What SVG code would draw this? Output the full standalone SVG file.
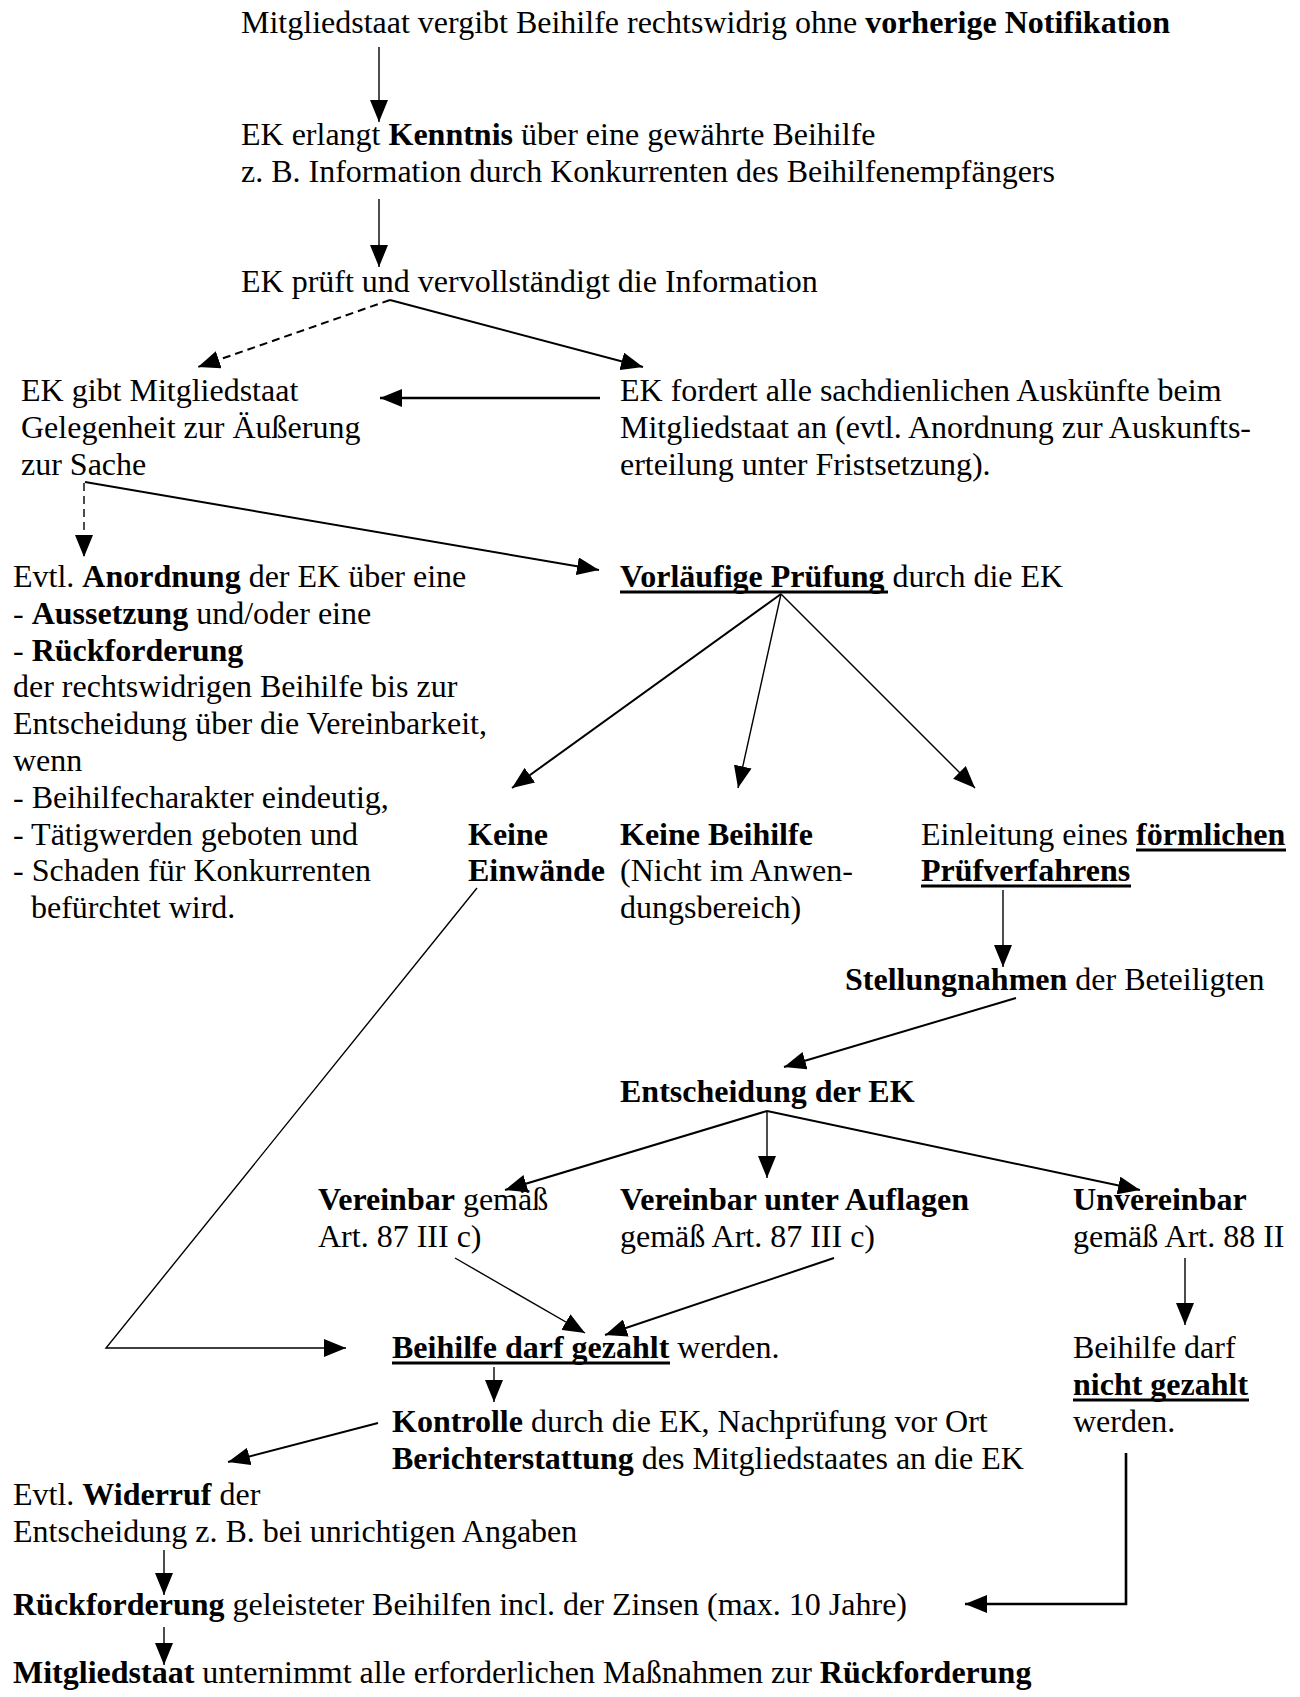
<svg xmlns="http://www.w3.org/2000/svg" width="1300" height="1697" viewBox="0 0 1300 1697">
<style>
text { font-family: "Liberation Serif", "Times New Roman", serif; font-size: 32px; fill: #000; }
.b { font-weight: bold; }
.c { stroke: #000; fill: none; stroke-width: 1.4; }
.w { stroke-width: 2; }
.t { stroke-width: 2.6; }
.d { stroke-dasharray: 8 5; }
.u { stroke: #000; stroke-width: 3; }
</style>
<defs>
<marker id="ah" markerUnits="userSpaceOnUse" viewBox="0 0 22 18" markerWidth="22" markerHeight="18" refX="22" refY="9" orient="auto">
<path d="M0,0 L22,9 L0,18 z" fill="#000"/>
</marker>
</defs>
<rect width="1300" height="1697" fill="#fff"/>

<g id="n-start"><text x="241" y="33">Mitgliedstaat vergibt Beihilfe rechtswidrig ohne <tspan class="b">vorherige Notifikation</tspan></text></g>
<g id="n-kenntnis">
<text x="241" y="145">EK erlangt <tspan class="b">Kenntnis</tspan> über eine gewährte Beihilfe</text>
<text x="241" y="182">z. B. Information durch Konkurrenten des Beihilfenempfängers</text>
</g>
<g id="n-pruefung"><text x="241" y="292">EK prüft und vervollständigt die Information</text></g>
<g id="n-gelegenheit">
<text x="21" y="401">EK gibt Mitgliedstaat</text>
<text x="21" y="438">Gelegenheit zur Äußerung</text>
<text x="21" y="475">zur Sache</text>
</g>
<g id="n-auskuenfte">
<text x="620" y="401">EK fordert alle sachdienlichen Auskünfte beim</text>
<text x="620" y="438">Mitgliedstaat an (evtl. Anordnung zur Auskunfts-</text>
<text x="620" y="475">erteilung unter Fristsetzung).</text>
</g>
<g id="n-anordnung">
<text x="13" y="587">Evtl. <tspan class="b">Anordnung</tspan> der EK über eine</text>
<text x="13" y="624">- <tspan class="b">Aussetzung</tspan> und/oder eine</text>
<text x="13" y="661">- <tspan class="b">Rückforderung</tspan></text>
<text x="13" y="697">der rechtswidrigen Beihilfe bis zur</text>
<text x="13" y="734">Entscheidung über die Vereinbarkeit,</text>
<text x="13" y="771">wenn</text>
<text x="13" y="808">- Beihilfecharakter eindeutig,</text>
<text x="13" y="845">- Tätigwerden geboten und</text>
<text x="13" y="881">- Schaden für Konkurrenten</text>
<text x="31" y="918">befürchtet wird.</text>
</g>
<g id="n-vorlaeufig">
<text x="620" y="587"><tspan class="b">Vorläufige Prüfung</tspan> durch die EK</text>
<line class="u" x1="620" y1="592" x2="888" y2="592"/>
</g>
<g id="n-keine-einwaende">
<text class="b" x="468" y="845">Keine</text>
<text class="b" x="468" y="881">Einwände</text>
</g>
<g id="n-keine-beihilfe">
<text class="b" x="620" y="845">Keine Beihilfe</text>
<text x="620" y="881">(Nicht im Anwen-</text>
<text x="620" y="918">dungsbereich)</text>
</g>
<g id="n-einleitung">
<text x="921" y="845">Einleitung eines <tspan class="b">förmlichen</tspan></text>
<text class="b" x="921" y="881">Prüfverfahrens</text>
<line class="u" x1="1136" y1="850" x2="1286" y2="850"/>
<line class="u" x1="921" y1="886" x2="1131" y2="886"/>
</g>
<g id="n-stellungnahmen"><text x="845" y="990"><tspan class="b">Stellungnahmen</tspan> der Beteiligten</text></g>
<g id="n-entscheidung"><text class="b" x="620" y="1102">Entscheidung der EK</text></g>
<g id="n-vereinbar">
<text x="318" y="1210"><tspan class="b">Vereinbar</tspan> gemäß</text>
<text x="318" y="1247">Art. 87 III c)</text>
</g>
<g id="n-auflagen">
<text class="b" x="620" y="1210">Vereinbar unter Auflagen</text>
<text x="620" y="1247">gemäß Art. 87 III c)</text>
</g>
<g id="n-unvereinbar">
<text class="b" x="1073" y="1210">Unvereinbar</text>
<text x="1073" y="1247">gemäß Art. 88 II</text>
</g>
<g id="n-gezahlt">
<text x="392" y="1358"><tspan class="b">Beihilfe darf gezahlt</tspan> werden.</text>
<line class="u" x1="392" y1="1363" x2="670" y2="1363"/>
</g>
<g id="n-nicht-gezahlt">
<text x="1073" y="1358">Beihilfe darf</text>
<text class="b" x="1073" y="1395">nicht gezahlt</text>
<text x="1073" y="1432">werden.</text>
<line class="u" x1="1073" y1="1400" x2="1249" y2="1400"/>
</g>
<g id="n-kontrolle">
<text x="392" y="1432"><tspan class="b">Kontrolle</tspan> durch die EK, Nachprüfung vor Ort</text>
<text x="392" y="1469"><tspan class="b">Berichterstattung</tspan> des Mitgliedstaates an die EK</text>
</g>
<g id="n-widerruf">
<text x="13" y="1505">Evtl. <tspan class="b">Widerruf</tspan> der</text>
<text x="13" y="1542">Entscheidung z. B. bei unrichtigen Angaben</text>
</g>
<g id="n-rueckforderung"><text x="13" y="1615"><tspan class="b">Rückforderung</tspan> geleisteter Beihilfen incl. der Zinsen (max. 10 Jahre)</text></g>
<g id="n-massnahmen"><text x="13" y="1683"><tspan class="b">Mitgliedstaat</tspan> unternimmt alle erforderlichen Maßnahmen zur <tspan class="b">Rückforderung</tspan></text></g>

<g id="connectors">
<line class="c" x1="379" y1="47" x2="379" y2="122" marker-end="url(#ah)"/>
<line class="c" x1="379" y1="199" x2="379" y2="267" marker-end="url(#ah)"/>
<line class="c w d" x1="390" y1="300" x2="198" y2="367" marker-end="url(#ah)"/>
<line class="c w" x1="390" y1="300" x2="643" y2="367" marker-end="url(#ah)"/>
<line class="c t" x1="600" y1="398" x2="380" y2="398" marker-end="url(#ah)"/>
<line class="c d" x1="84" y1="483" x2="84" y2="557" marker-end="url(#ah)"/>
<line class="c w" x1="85" y1="482" x2="599" y2="570" marker-end="url(#ah)"/>
<line class="c w" x1="781" y1="594" x2="512" y2="788" marker-end="url(#ah)"/>
<line class="c" x1="781" y1="594" x2="738" y2="788" marker-end="url(#ah)"/>
<line class="c" x1="781" y1="594" x2="975" y2="788" marker-end="url(#ah)"/>
<polyline class="c" points="477,888 106,1348 346,1348" marker-end="url(#ah)"/>
<line class="c" x1="1003" y1="890" x2="1003" y2="967" marker-end="url(#ah)"/>
<line class="c w" x1="1016" y1="998" x2="784" y2="1067" marker-end="url(#ah)"/>
<line class="c w" x1="767" y1="1111" x2="505" y2="1190" marker-end="url(#ah)"/>
<line class="c" x1="767" y1="1111" x2="767" y2="1178" marker-end="url(#ah)"/>
<line class="c w" x1="767" y1="1111" x2="1140" y2="1190" marker-end="url(#ah)"/>
<line class="c" x1="455" y1="1258" x2="585" y2="1333" marker-end="url(#ah)"/>
<line class="c w" x1="834" y1="1258" x2="605" y2="1335" marker-end="url(#ah)"/>
<line class="c" x1="1185" y1="1258" x2="1185" y2="1325" marker-end="url(#ah)"/>
<line class="c" x1="494" y1="1367" x2="494" y2="1402" marker-end="url(#ah)"/>
<line class="c w" x1="378" y1="1423" x2="228" y2="1462" marker-end="url(#ah)"/>
<line class="c" x1="164" y1="1550" x2="164" y2="1595" marker-end="url(#ah)"/>
<polyline class="c t" points="1126,1453 1126,1604 965,1604" marker-end="url(#ah)"/>
<line class="c" x1="164" y1="1627" x2="164" y2="1665" marker-end="url(#ah)"/>
</g>
</svg>
